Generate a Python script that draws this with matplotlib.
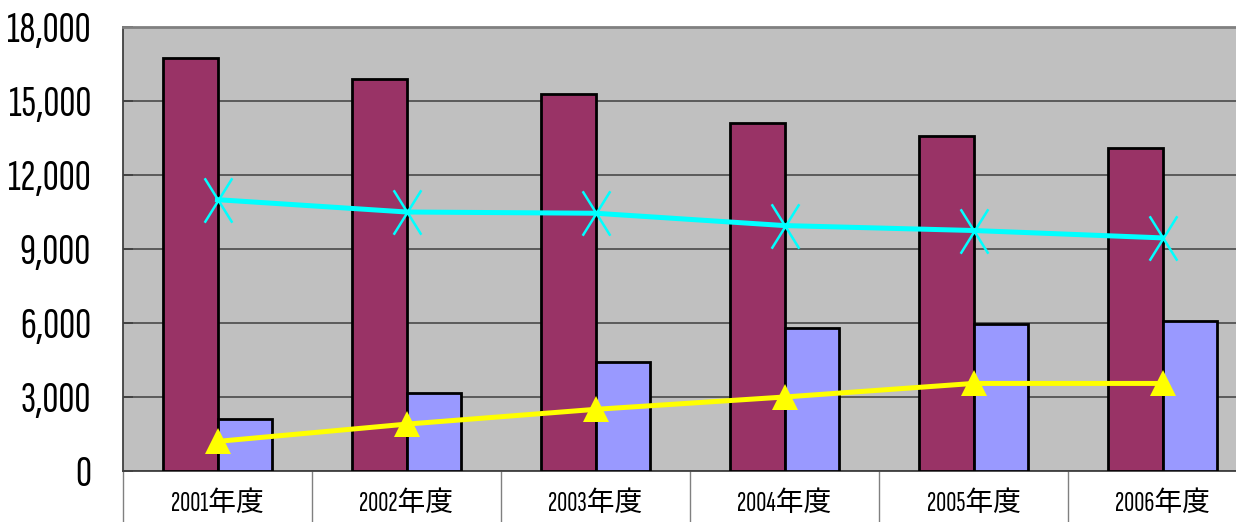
import numpy as np
import matplotlib.pyplot as plt
from matplotlib.path import Path

# 年度別データ
years = ['2001年度', '2002年度', '2003年度', '2004年度', '2005年度', '2006年度']
bar_a = [16750, 15900, 15300, 14100, 13600, 13100]   # 赤紫の棒
bar_b = [2100, 3150, 4400, 5800, 5950, 6100]         # 青紫の棒
line_c = [11000, 10500, 10450, 9950, 9750, 9450]     # 水色の折れ線
line_y = [1200, 1900, 2500, 3000, 3550, 3550]        # 黄色の折れ線

yticks = [0, 3000, 6000, 9000, 12000, 15000, 18000]

narrow = ['Sofia Sans Extra Condensed', 'DejaVu Sans']
label_font = ['Sofia Sans Extra Condensed', 'Noto Sans CJK JP', 'DejaVu Sans']

fig = plt.figure(figsize=(12.36, 5.22), dpi=100)
ax = fig.add_axes([123 / 1236, 51 / 522, 1134 / 1236, 444 / 522])
ax.set_facecolor('#C0C0C0')

x = np.arange(len(years))
w = 0.286
ax.bar(x - w / 2, bar_a, width=w, color='#993366', edgecolor='black', linewidth=2.0, zorder=3)
ax.bar(x + w / 2, bar_b, width=w, color='#9999FF', edgecolor='black', linewidth=2.0, zorder=3)

# 縦長の X 字マーカー
k = 28 / 45
xmark = Path([(-k, -1), (k, 1), (-k, 1), (k, -1)],
             [Path.MOVETO, Path.LINETO, Path.MOVETO, Path.LINETO])

ax.plot(x, line_c, color='#00FFFF', linewidth=3.6, marker=xmark, markersize=32,
        markeredgewidth=1.8, markeredgecolor='#00FFFF', zorder=4)
ax.plot(x, line_y, color='#FFFF00', linewidth=3.6, marker='^', markersize=19,
        markeredgewidth=0, markerfacecolor='#FFFF00', zorder=4)

ax.set_xlim(-0.5, len(years) - 0.5)
ax.set_ylim(0, 18000)

ax.set_yticks(yticks)
ax.set_yticklabels([f'{v:,}' for v in yticks], fontfamily=narrow, fontsize=32)
ax.yaxis.grid(True, color='#404040', linewidth=1.1, zorder=1)
ax.set_axisbelow(True)
ax.tick_params(axis='y', direction='in', length=7, width=1.2, color='#404040', pad=23)

# 区切り線は主目盛、年度ラベルは副目盛
ax.set_xticks(np.arange(len(years) + 1) - 0.5)
ax.set_xticklabels([])
ax.tick_params(axis='x', which='major', direction='out', length=38, width=1.0, color='#808080')
ax.set_xticks(x, minor=True)
ax.set_xticklabels(years, minor=True, fontfamily=label_font, fontsize=20)
ax.tick_params(axis='x', which='minor', length=0, pad=14)

for side in ['left', 'bottom']:
    ax.spines[side].set_color('#404040')
    ax.spines[side].set_linewidth(1.3)
ax.spines['top'].set_color('#808080')
ax.spines['top'].set_linewidth(2)
ax.spines['right'].set_visible(False)

fig.savefig('out.png', dpi=100)
